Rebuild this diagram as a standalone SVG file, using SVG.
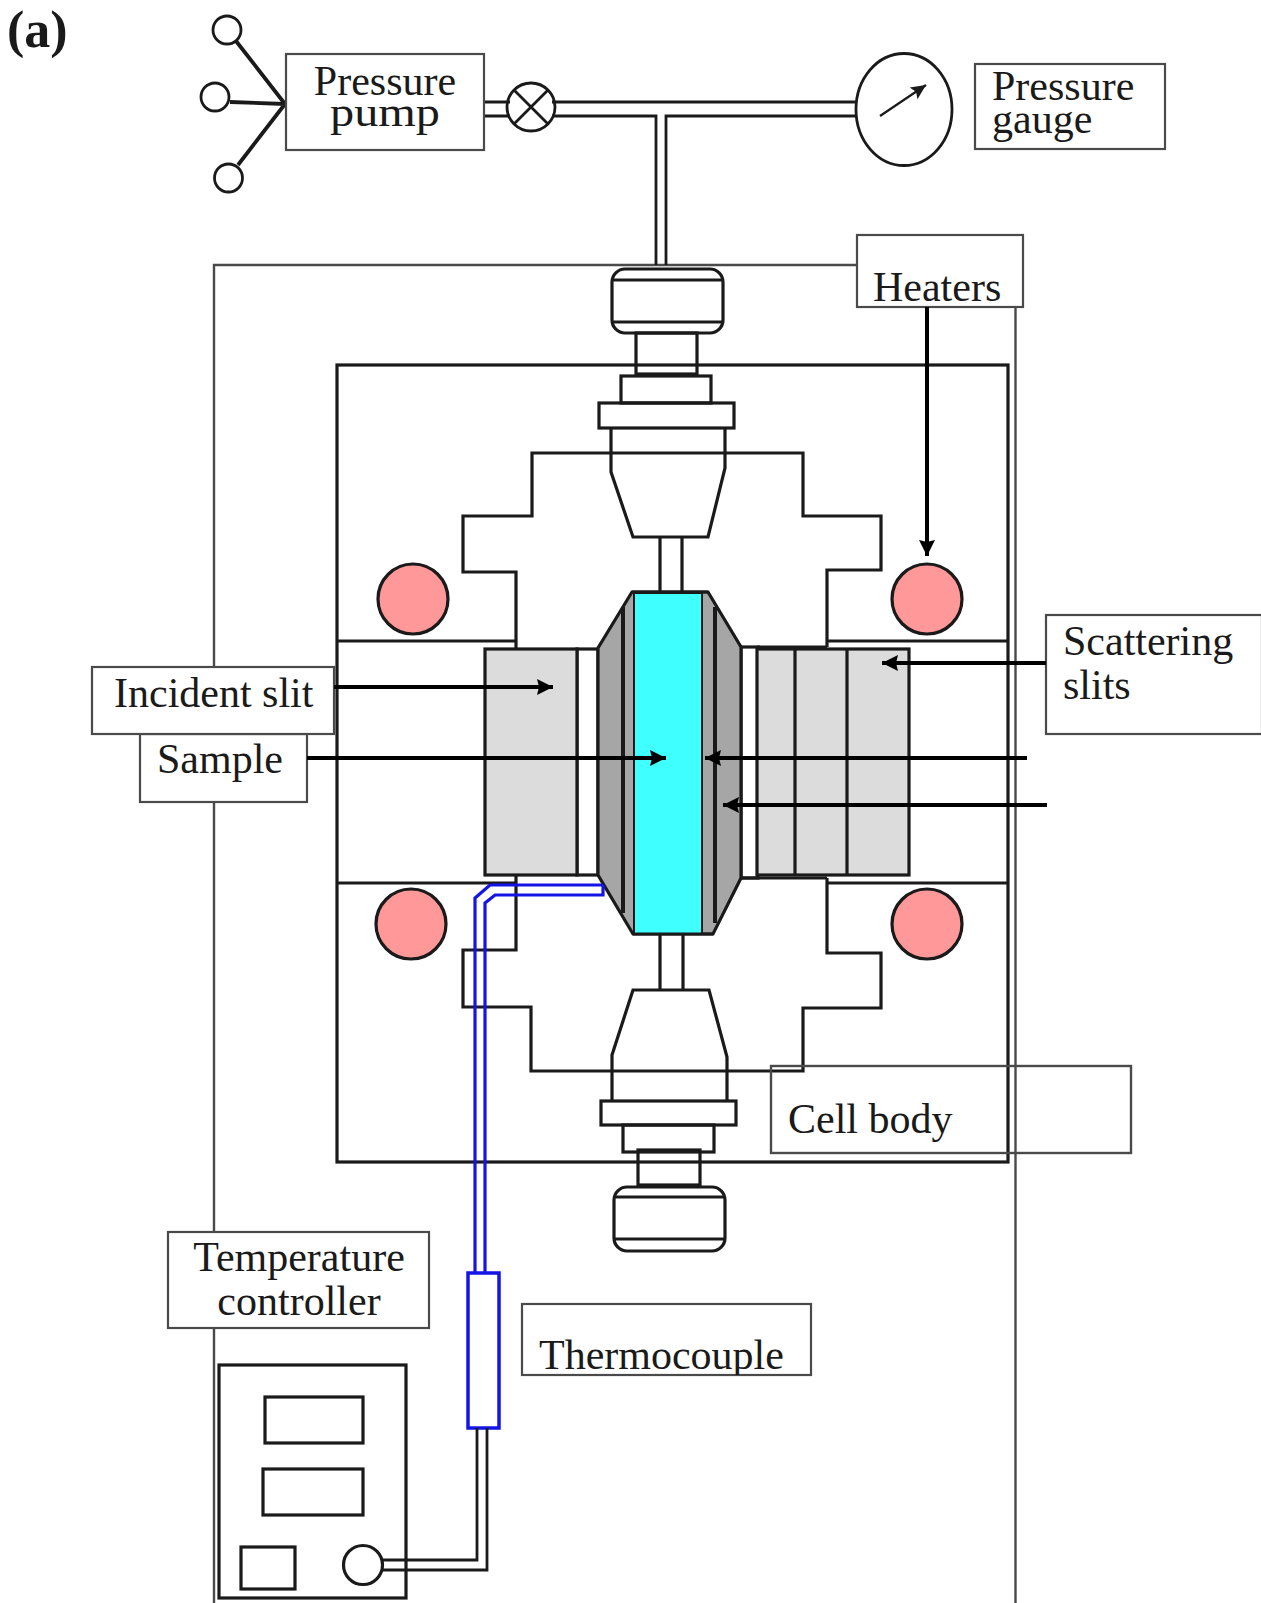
<svg xmlns="http://www.w3.org/2000/svg" width="1261" height="1603" viewBox="0 0 1261 1603">
<style>
.s{fill:none;stroke:#1a1a1a;stroke-width:3.200;stroke-linejoin:miter}
.t{fill:none;stroke:#1a1a1a;stroke-width:2.800}
.w{fill:#fff;stroke:#1a1a1a;stroke-width:3.200}
.lb{fill:#fff;stroke:#4a4a4a;stroke-width:2.200}
.ln{fill:none;stroke:#4a4a4a;stroke-width:2.400}
.lg{fill:#dcdcdc;stroke:#1a1a1a;stroke-width:3.200}
.dg{fill:#a6a6a6;stroke:#1a1a1a;stroke-width:3.200}
.pk{fill:#ff9999;stroke:#1a1a1a;stroke-width:3.200}
.bl{fill:none;stroke:#1414e6;stroke-width:3.200}
.a{fill:none;stroke:#000;stroke-width:4;marker-end:url(#ah)}
text{font-family:"Liberation Serif","Times New Roman",serif;font-size:42px;fill:#1a1a1a}
</style>
<defs>
<marker id="ah" markerUnits="userSpaceOnUse" markerWidth="18" markerHeight="18" refX="16" refY="9" orient="auto"><path d="M0 1L16 9L0 17L2 9Z" fill="#000"/></marker>
<marker id="ah2" markerUnits="userSpaceOnUse" markerWidth="16" markerHeight="16" refX="15" refY="8" orient="auto"><path d="M0 1L15 8L0 15L3 8Z" fill="#1a1a1a"/></marker>
<clipPath id="tc"><rect x="522" y="1304" width="289" height="71"/></clipPath>
</defs>
<rect width="1261" height="1603" fill="#fff"/>
<text x="7" y="47" style="font-weight:bold;font-size:52px">(a)</text>

<g id="outer-frame"><path class="ln" d="M214 1603V265H857M1015.500 307V1603"/></g>

<g id="cell-body">
<rect class="s" x="337" y="365" width="671" height="797"/>
<path class="s" d="M337 641H517M827 641H1008M337 883H517M827 883H1008"/>
<path class="s" d="M516 649V572H463V516H532V453H803V516H881V570H827V647"/>
<path class="s" d="M516 875V950H463V1007H531V1071H803V1008H881V953H827V878"/>
</g>

<g id="top-fitting">
<rect class="s" x="612" y="269" width="111" height="64" rx="13"/>
<path class="t" d="M612 280H723M612 322H723"/>
<rect class="s" x="636" y="333" width="61" height="41"/>
<rect class="s" x="621" y="376" width="90" height="27"/>
<rect class="s" x="599" y="403" width="135" height="25"/>
<path class="s" d="M611 428V472L633 537H708L725 468V428"/>
<path class="s" d="M660 537V592M682 537V592"/>
</g>
<g id="bottom-fitting">
<path class="s" d="M660 932H683M660 932V989M683 932V989"/>
<path class="s" d="M612 1101V1055L633 990H709L727 1057V1101"/>
<rect class="s" x="601" y="1101" width="135" height="24"/>
<rect class="s" x="623" y="1125" width="91" height="27"/>
<rect class="s" x="638" y="1150" width="62" height="35"/>
<rect class="s" x="614" y="1187" width="111" height="64" rx="13"/>
<path class="t" d="M614 1197H725M614 1239H725"/>
</g>

<g id="incident-slit-block">
<rect class="w" x="577" y="649" width="21" height="226"/>
<rect class="lg" x="485" y="649" width="92" height="226"/>
</g>
<g id="scattering-slit-block">
<rect class="w" x="741" y="647" width="17" height="231"/>
<rect class="lg" x="757" y="649" width="152" height="226"/>
<path class="s" d="M795 649V875M847 649V875M757 647H827M741 878H827"/>
</g>
<g id="window">
<path class="dg" d="M632 592L598 648V875L633 934H713L741 878V647L708 592Z"/>
<rect x="634" y="593" width="68" height="341" fill="#40ffff" stroke="#1a1a1a" stroke-width="2"/>
<path class="s" d="M632 592H708M633 934H713"/>
<path fill="none" stroke="#1a1a1a" stroke-width="4" d="M623 607V913M715 607V923"/>
</g>

<g id="heaters">
<circle class="pk" cx="413" cy="599" r="35"/>
<circle class="pk" cx="927" cy="599" r="35"/>
<circle class="pk" cx="411" cy="924" r="35"/>
<circle class="pk" cx="927" cy="924" r="35"/>
</g>

<g id="thermocouple">
<path class="bl" d="M603 885H490L475 898V1273M603 885V895H495L485 903V1273"/>
<rect x="468" y="1273" width="31" height="155" fill="#fff" stroke="#1414e6" stroke-width="3.500"/>
<path class="t" d="M477 1428V1560H383M487 1428V1570H383"/>
</g>

<g id="controller">
<rect class="s" x="219" y="1365" width="187" height="233"/>
<rect class="s" x="265" y="1397" width="98" height="46"/>
<rect class="s" x="263" y="1469" width="100" height="46"/>
<rect class="s" x="241" y="1547" width="54" height="42"/>
<circle class="s" cx="363" cy="1565" r="19.500"/>
</g>

<g id="pressure-lines">
<path class="t" d="M484 102H510M484 116H510M552 102H856M552 116H656V265M856 116H666V265"/>
<path fill="none" stroke="#1a1a1a" stroke-width="3.800" d="M236 41L285 104M230 102L285 104M238 165L285 104"/>
</g>
<g id="pump-valves">
<circle class="t" cx="227" cy="30" r="14"/>
<circle class="t" cx="215" cy="97" r="14"/>
<circle class="t" cx="228.500" cy="178" r="14"/>
</g>
<g id="valve">
<circle class="t" cx="531" cy="107" r="24"/>
<path class="t" d="M514 90L548 124M548 90L514 124"/>
</g>
<g id="pressure-gauge">
<ellipse class="t" cx="904" cy="109.500" rx="48" ry="56"/>
<path fill="none" stroke="#1a1a1a" stroke-width="2.200" marker-end="url(#ah2)" d="M880 116L926 85"/>
</g>

<g id="label-pressure-pump"><rect class="lb" x="286" y="54" width="198" height="96"/><text x="385" y="95" text-anchor="middle">Pressure</text><text x="385" y="126" text-anchor="middle" textLength="110" lengthAdjust="spacingAndGlyphs">pump</text></g>
<g id="label-pressure-gauge"><rect class="lb" x="975" y="64" width="190" height="85"/><text x="992" y="100">Pressure</text><text x="992" y="133">gauge</text></g>
<g id="label-heaters"><rect class="lb" x="857" y="235" width="166" height="72"/><text x="873" y="301">Heaters</text></g>
<g id="label-scattering"><rect class="lb" x="1046" y="615" width="216" height="119"/><text x="1063" y="655">Scattering</text><text x="1063" y="699">slits</text></g>
<g id="label-sample"><rect class="lb" x="140" y="734" width="167" height="68"/><text x="157" y="773">Sample</text></g>
<g id="label-incident"><rect class="lb" x="92" y="667" width="242" height="67"/><text x="114" y="707">Incident slit</text></g>
<g id="label-cell-body"><rect class="ln" x="771" y="1066" width="360" height="87"/><text x="788" y="1133">Cell body</text></g>
<g id="label-temperature"><rect class="lb" x="168" y="1232" width="261" height="96"/><text x="299" y="1271" text-anchor="middle">Temperature</text><text x="299" y="1315" text-anchor="middle">controller</text></g>
<g id="label-thermocouple"><rect class="lb" x="522" y="1304" width="289" height="71"/><text x="539" y="1369" clip-path="url(#tc)">Thermocouple</text></g>

<g id="connectors">
<path class="a" d="M927 307V556"/>
<path class="a" d="M334 687H553"/>
<path class="a" d="M307 758H666"/>
<path class="a" d="M1027 758H705"/>
<path class="a" d="M1047 805H723"/>
<path class="a" d="M1046 663H882"/>
</g>
</svg>
